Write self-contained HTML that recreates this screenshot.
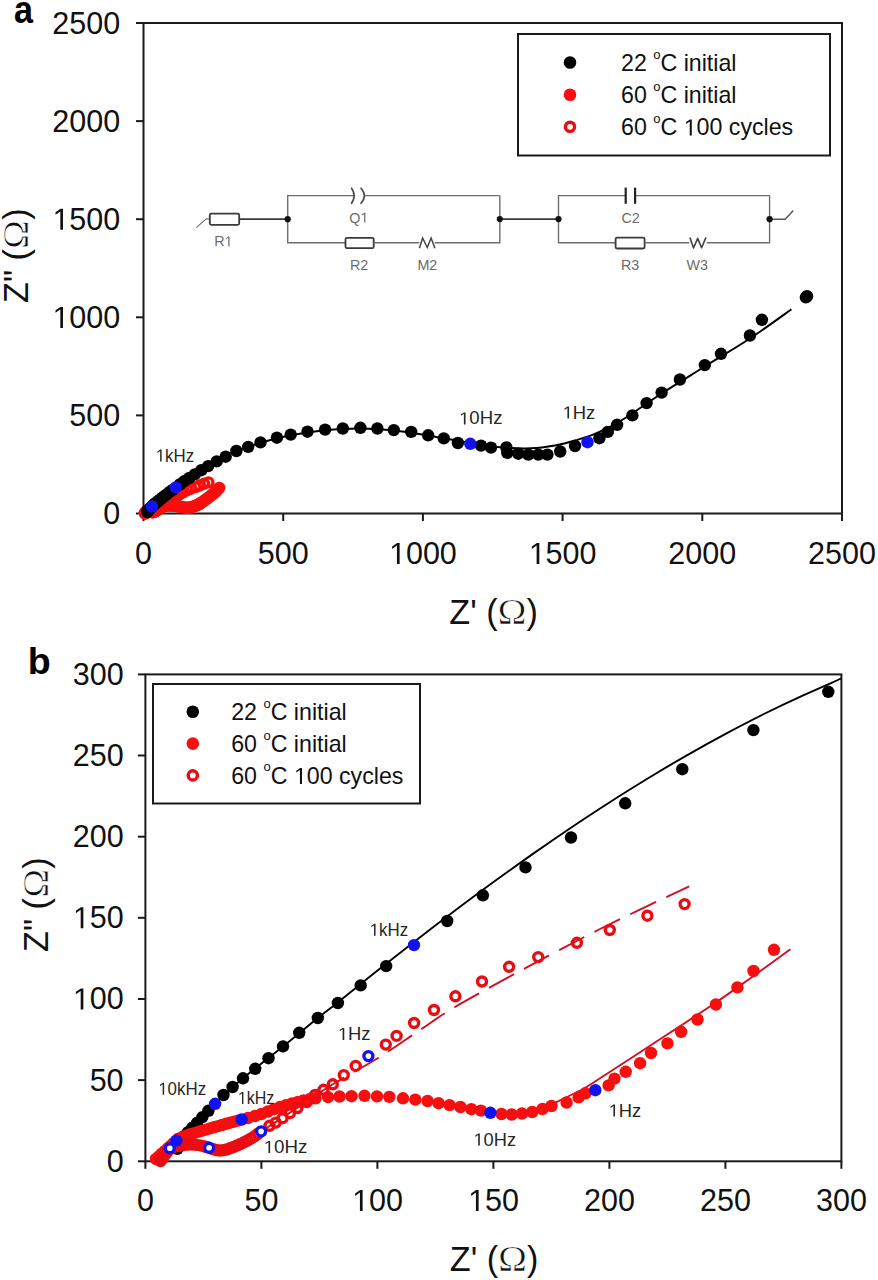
<!DOCTYPE html>
<html><head><meta charset="utf-8"><title>Nyquist plots</title>
<style>html,body{margin:0;padding:0;background:#fff;} body{width:878px;height:1280px;overflow:hidden;} svg{display:block;}</style>
</head><body>
<svg width="878" height="1280" viewBox="0 0 878 1280">
<rect x="143.5" y="23.0" width="698.5" height="490.5" fill="none" stroke="#1a1a1a" stroke-width="2"/>
<line x1="136.0" y1="513.5" x2="143.5" y2="513.5" stroke="#1a1a1a" stroke-width="2"/>
<text x="103.24" y="524.1" font-family="Liberation Sans" font-size="30.5" fill="#111" style="font-kerning:none">0</text>
<line x1="143.5" y1="513.5" x2="143.5" y2="521.0" stroke="#1a1a1a" stroke-width="2"/>
<text x="135.02" y="564" font-family="Liberation Sans" font-size="30.5" fill="#111" style="font-kerning:none">0</text>
<line x1="136.0" y1="415.4" x2="143.5" y2="415.4" stroke="#1a1a1a" stroke-width="2"/>
<text x="69.31" y="426.0" font-family="Liberation Sans" font-size="30.5" fill="#111" style="font-kerning:none">500</text>
<line x1="283.2" y1="513.5" x2="283.2" y2="521.0" stroke="#1a1a1a" stroke-width="2"/>
<text x="257.76" y="564" font-family="Liberation Sans" font-size="30.5" fill="#111" style="font-kerning:none">500</text>
<line x1="136.0" y1="317.3" x2="143.5" y2="317.3" stroke="#1a1a1a" stroke-width="2"/>
<text x="52.35" y="327.9" font-family="Liberation Sans" font-size="30.5" fill="#111" style="font-kerning:none"> 000</text><path transform="translate(52.35,327.9) scale(0.01489,-0.01489)" d="M535 0V1237L212 1010V1180L550 1409H716V0Z" fill="#111"/>
<line x1="422.9" y1="513.5" x2="422.9" y2="521.0" stroke="#1a1a1a" stroke-width="2"/>
<text x="388.97" y="564" font-family="Liberation Sans" font-size="30.5" fill="#111" style="font-kerning:none"> 000</text><path transform="translate(388.97,564) scale(0.01489,-0.01489)" d="M535 0V1237L212 1010V1180L550 1409H716V0Z" fill="#111"/>
<line x1="136.0" y1="219.2" x2="143.5" y2="219.2" stroke="#1a1a1a" stroke-width="2"/>
<text x="52.35" y="229.8" font-family="Liberation Sans" font-size="30.5" fill="#111" style="font-kerning:none"> 500</text><path transform="translate(52.35,229.8) scale(0.01489,-0.01489)" d="M535 0V1237L212 1010V1180L550 1409H716V0Z" fill="#111"/>
<line x1="562.6" y1="513.5" x2="562.6" y2="521.0" stroke="#1a1a1a" stroke-width="2"/>
<text x="528.67" y="564" font-family="Liberation Sans" font-size="30.5" fill="#111" style="font-kerning:none"> 500</text><path transform="translate(528.67,564) scale(0.01489,-0.01489)" d="M535 0V1237L212 1010V1180L550 1409H716V0Z" fill="#111"/>
<line x1="136.0" y1="121.1" x2="143.5" y2="121.1" stroke="#1a1a1a" stroke-width="2"/>
<text x="52.35" y="131.7" font-family="Liberation Sans" font-size="30.5" fill="#111" style="font-kerning:none">2000</text>
<line x1="702.3" y1="513.5" x2="702.3" y2="521.0" stroke="#1a1a1a" stroke-width="2"/>
<text x="668.37" y="564" font-family="Liberation Sans" font-size="30.5" fill="#111" style="font-kerning:none">2000</text>
<line x1="136.0" y1="23.0" x2="143.5" y2="23.0" stroke="#1a1a1a" stroke-width="2"/>
<text x="52.35" y="33.6" font-family="Liberation Sans" font-size="30.5" fill="#111" style="font-kerning:none">2500</text>
<line x1="842.0" y1="513.5" x2="842.0" y2="521.0" stroke="#1a1a1a" stroke-width="2"/>
<text x="808.07" y="564" font-family="Liberation Sans" font-size="30.5" fill="#111" style="font-kerning:none">2500</text>
<text transform="translate(14.0,22.8) scale(0.877,1)" font-family="Liberation Sans" font-weight="bold" font-size="39" fill="#000">a</text>
<rect x="518" y="34" width="312" height="121.5" fill="#fff" stroke="#1a1a1a" stroke-width="2"/>
<circle cx="570" cy="62.5" r="6.3" fill="#000"/>
<text x="621" y="71.10" font-family="Liberation Sans" font-size="23.2" fill="#111" style="font-kerning:none">22</text>
<text x="653.25" y="58.50" font-family="Liberation Sans" font-size="13.0" fill="#111">o</text>
<text x="660.48" y="71.10" font-family="Liberation Sans" font-size="23.2" fill="#111" style="font-kerning:none">C initial</text>
<circle cx="570" cy="94.8" r="6.3" fill="#f80e0e"/>
<text x="621" y="103.40" font-family="Liberation Sans" font-size="23.2" fill="#111" style="font-kerning:none">60</text>
<text x="653.25" y="90.80" font-family="Liberation Sans" font-size="13.0" fill="#111">o</text>
<text x="660.48" y="103.40" font-family="Liberation Sans" font-size="23.2" fill="#111" style="font-kerning:none">C initial</text>
<circle cx="570" cy="126.8" r="4.6" fill="#fff" stroke="#ea0c13" stroke-width="3.4"/>
<text x="621" y="135.40" font-family="Liberation Sans" font-size="23.2" fill="#111" style="font-kerning:none">60</text>
<text x="653.25" y="122.80" font-family="Liberation Sans" font-size="13.0" fill="#111">o</text>
<text x="660.48" y="135.40" font-family="Liberation Sans" font-size="23.2" fill="#111" style="font-kerning:none">C  00 cycles</text>
<path transform="translate(683.68,135.40) scale(0.01133,-0.01133)" d="M535 0V1237L212 1010V1180L550 1409H716V0Z" fill="#111"/>

<g fill="none" stroke="#6e6e6e" stroke-width="1.4">
<polyline points="196.3,227.6 206.3,218.8 209.4,218.8" stroke="#777" stroke-width="1.2"/>
<rect x="209.8" y="213.6" width="29.4" height="11.2" rx="1.5" stroke="#3a3a3a" stroke-width="1.8"/>
<line x1="239.5" y1="219.2" x2="287.7" y2="219.2" stroke="#3a3a3a" stroke-width="1.8"/>
<polyline points="354.2,195.6 287.7,195.6 287.7,242.8 345.1,242.8"/>
<line x1="364.3" y1="195.6" x2="499.8" y2="195.6"/>
<rect x="345.5" y="237.8" width="28.2" height="10.4" rx="1.5" stroke="#3a3a3a" stroke-width="1.8"/>
<line x1="373.7" y1="242.8" x2="419.3" y2="242.8"/>
<polyline points="419.4,248.3 422.6,238 427.3,247.5 431.1,238 434.9,248.3" stroke="#444" stroke-width="1.5"/>
<polyline points="434.7,242.8 499.8,242.8 499.8,195.6"/>
<line x1="499.8" y1="219.1" x2="558.5" y2="219.1" stroke="#3a3a3a" stroke-width="1.8"/>
<polyline points="625.7,195.6 558.5,195.6 558.5,242.8 615.3,242.8"/>
<line x1="635.1" y1="195.6" x2="769.6" y2="195.6"/>
<polyline points="769.6,195.6 769.6,242.8 706.6,242.8"/>
<rect x="615.6" y="237.7" width="29.0" height="10.8" rx="1.5" stroke="#3a3a3a" stroke-width="1.8"/>
<line x1="644.6" y1="242.8" x2="689.3" y2="242.8"/>
<polyline points="769.6,219.2 785.1,219.2 793.3,210.5" stroke="#555" stroke-width="1.4"/>
<path d="M351.6,188.2 Q356.6,195.6 351.6,203.3 M361.1,188.2 Q367.6,195.6 361.1,203.3" stroke="#4a4a4a" stroke-width="1.7" stroke-linecap="round"/>
<line x1="625.7" y1="187.6" x2="625.7" y2="203.8" stroke="#222" stroke-width="2.2"/>
<line x1="635.1" y1="187.6" x2="635.1" y2="203.8" stroke="#222" stroke-width="2.2"/>
</g>
<g fill="#111">
<circle cx="287.7" cy="219.2" r="3.1"/>
<circle cx="499.8" cy="219.1" r="3.1"/>
<circle cx="558.5" cy="219.1" r="3.1"/>
<circle cx="769.6" cy="219.2" r="3.1"/>
</g>
<polyline points="689.9,237.4 693.5,247.9 697.7,238.4 701.6,247.7 706.0,237.4" fill="none" stroke="#454545" stroke-width="1.6" stroke-linejoin="round"/>

<text x="214.20" y="246.4" font-family="Liberation Sans" font-size="14.3" fill="#6c6c6c" style="font-kerning:none">R </text><path transform="translate(224.53,246.4) scale(0.00698,-0.00698)" d="M535 0V1237L212 1010V1180L550 1409H716V0Z" fill="#6c6c6c"/>
<text x="349.30" y="222.6" font-family="Liberation Sans" font-size="14.3" fill="#6c6c6c" style="font-kerning:none">Q </text><path transform="translate(360.42,222.6) scale(0.00698,-0.00698)" d="M535 0V1237L212 1010V1180L550 1409H716V0Z" fill="#6c6c6c"/>
<text x="349.90" y="270" font-family="Liberation Sans" font-size="14.3" fill="#6c6c6c" style="font-kerning:none">R2</text>
<text x="417.40" y="270" font-family="Liberation Sans" font-size="14.3" fill="#6c6c6c" style="font-kerning:none">M2</text>
<text x="621.50" y="223.2" font-family="Liberation Sans" font-size="14.3" fill="#6c6c6c" style="font-kerning:none">C2</text>
<text x="621.00" y="270" font-family="Liberation Sans" font-size="14.3" fill="#6c6c6c" style="font-kerning:none">R3</text>
<text x="686.40" y="270" font-family="Liberation Sans" font-size="14.3" fill="#6c6c6c" style="font-kerning:none">W3</text>
<g>
<path d="M147.4,511.3 C147.6,511.0 148.1,510.6 148.9,509.8 C149.6,509.0 150.8,507.6 151.9,506.5 C153.0,505.5 153.9,504.6 155.3,503.5 C156.6,502.3 158.6,500.8 160.1,499.6 C161.6,498.4 163.2,497.1 164.3,496.2 C165.4,495.3 165.5,495.2 166.7,494.3 C167.9,493.4 169.8,491.8 171.3,490.5 C172.9,489.3 174.4,488.1 176.0,486.9 C177.6,485.6 179.1,484.5 180.7,483.3 C182.2,482.1 183.8,480.9 185.3,479.8 C186.9,478.7 188.4,477.6 190.0,476.5 C191.6,475.4 193.1,474.3 194.7,473.2 C196.2,472.2 197.8,471.2 199.3,470.1 C200.9,469.1 202.4,468.2 204.0,467.2 C205.5,466.3 207.1,465.4 208.7,464.5 C210.2,463.6 211.8,462.7 213.3,461.9 C214.9,461.0 216.4,460.2 218.0,459.4 C219.5,458.7 221.1,457.9 222.6,457.2 C224.2,456.5 225.0,456.1 227.3,455.1 C229.6,454.2 230.9,453.6 236.4,451.5 C241.9,449.4 251.4,445.5 260.5,442.8 C269.6,440.1 279.9,437.3 290.7,435.2 C301.5,433.1 313.5,431.3 325.1,430.2 C336.7,429.1 348.9,428.4 360.4,428.5 C371.8,428.6 382.5,429.3 393.8,430.5 C405.1,431.7 415.5,433.4 428.2,435.5 C440.9,437.6 458.0,441.1 470.0,443.0 C482.0,444.9 489.8,446.3 500.0,447.2 C510.2,448.1 521.8,448.6 531.0,448.3 C540.2,448.0 547.7,446.8 555.0,445.5 C562.3,444.2 568.1,442.6 575.0,440.5 C581.9,438.4 588.8,436.6 596.6,433.2 C604.5,429.8 611.3,426.6 622.1,420.0 C632.9,413.4 647.8,402.4 661.6,393.5 C675.4,384.6 690.1,375.7 704.8,366.5 C719.5,357.3 735.5,348.0 749.9,338.5 C764.3,329.0 784.5,314.2 791.4,309.3" fill="none" stroke="#000" stroke-width="2.0"/>
<circle cx="144.8" cy="513.2" r="6.2" fill="#f80e0e"/>
<circle cx="145.1" cy="512.9" r="6.2" fill="#f80e0e"/>
<circle cx="145.5" cy="512.6" r="6.2" fill="#f80e0e"/>
<circle cx="145.8" cy="512.3" r="6.2" fill="#f80e0e"/>
<circle cx="146.2" cy="512.0" r="6.2" fill="#f80e0e"/>
<circle cx="146.5" cy="511.6" r="6.2" fill="#f80e0e"/>
<circle cx="146.9" cy="511.3" r="6.2" fill="#f80e0e"/>
<circle cx="147.2" cy="511.0" r="6.2" fill="#f80e0e"/>
<circle cx="147.5" cy="510.8" r="6.2" fill="#f80e0e"/>
<circle cx="147.9" cy="510.6" r="6.2" fill="#f80e0e"/>
<circle cx="148.4" cy="510.4" r="6.2" fill="#f80e0e"/>
<circle cx="148.9" cy="510.2" r="6.2" fill="#f80e0e"/>
<circle cx="149.4" cy="510.1" r="6.2" fill="#f80e0e"/>
<circle cx="149.8" cy="509.9" r="6.2" fill="#f80e0e"/>
<circle cx="150.3" cy="509.8" r="6.2" fill="#f80e0e"/>
<circle cx="150.8" cy="509.7" r="6.2" fill="#f80e0e"/>
<circle cx="151.3" cy="509.5" r="6.2" fill="#f80e0e"/>
<circle cx="151.8" cy="509.4" r="6.2" fill="#f80e0e"/>
<circle cx="152.2" cy="509.2" r="6.2" fill="#f80e0e"/>
<circle cx="152.7" cy="509.1" r="6.2" fill="#f80e0e"/>
<circle cx="153.2" cy="509.0" r="6.2" fill="#f80e0e"/>
<circle cx="153.7" cy="508.8" r="6.2" fill="#f80e0e"/>
<circle cx="154.2" cy="508.7" r="6.2" fill="#f80e0e"/>
<circle cx="154.7" cy="508.6" r="6.2" fill="#f80e0e"/>
<circle cx="155.1" cy="508.4" r="6.2" fill="#f80e0e"/>
<circle cx="155.9" cy="508.3" r="6.2" fill="#f80e0e"/>
<circle cx="156.7" cy="508.0" r="6.2" fill="#f80e0e"/>
<circle cx="157.5" cy="507.8" r="6.2" fill="#f80e0e"/>
<circle cx="158.3" cy="507.5" r="6.2" fill="#f80e0e"/>
<circle cx="159.0" cy="507.2" r="6.2" fill="#f80e0e"/>
<circle cx="159.7" cy="506.9" r="6.2" fill="#f80e0e"/>
<circle cx="160.4" cy="506.7" r="6.2" fill="#f80e0e"/>
<circle cx="161.2" cy="506.5" r="6.2" fill="#f80e0e"/>
<circle cx="161.9" cy="506.3" r="6.2" fill="#f80e0e"/>
<circle cx="162.5" cy="506.2" r="6.2" fill="#f80e0e"/>
<circle cx="163.3" cy="506.0" r="6.2" fill="#f80e0e"/>
<circle cx="164.0" cy="505.9" r="6.2" fill="#f80e0e"/>
<circle cx="165.5" cy="505.7" r="6.2" fill="#f80e0e"/>
<circle cx="166.9" cy="505.7" r="6.2" fill="#f80e0e"/>
<circle cx="168.3" cy="505.6" r="6.2" fill="#f80e0e"/>
<circle cx="169.9" cy="505.6" r="6.2" fill="#f80e0e"/>
<circle cx="171.4" cy="505.7" r="6.2" fill="#f80e0e"/>
<circle cx="172.9" cy="505.7" r="6.2" fill="#f80e0e"/>
<circle cx="174.5" cy="505.9" r="6.2" fill="#f80e0e"/>
<circle cx="176.0" cy="506.0" r="6.2" fill="#f80e0e"/>
<circle cx="177.5" cy="506.2" r="6.2" fill="#f80e0e"/>
<circle cx="178.8" cy="506.5" r="6.2" fill="#f80e0e"/>
<circle cx="180.1" cy="506.7" r="6.2" fill="#f80e0e"/>
<circle cx="181.4" cy="506.9" r="6.2" fill="#f80e0e"/>
<circle cx="182.8" cy="507.2" r="6.2" fill="#f80e0e"/>
<circle cx="183.9" cy="507.4" r="6.2" fill="#f80e0e"/>
<circle cx="185.0" cy="507.6" r="6.2" fill="#f80e0e"/>
<circle cx="186.4" cy="507.8" r="6.2" fill="#f80e0e"/>
<circle cx="187.6" cy="507.8" r="6.2" fill="#f80e0e"/>
<circle cx="188.9" cy="507.7" r="6.2" fill="#f80e0e"/>
<circle cx="190.1" cy="507.5" r="6.2" fill="#f80e0e"/>
<circle cx="191.3" cy="507.2" r="6.2" fill="#f80e0e"/>
<circle cx="192.4" cy="506.8" r="6.2" fill="#f80e0e"/>
<circle cx="194.2" cy="506.4" r="6.2" fill="#f80e0e"/>
<circle cx="195.7" cy="505.8" r="6.2" fill="#f80e0e"/>
<circle cx="196.5" cy="505.3" r="6.2" fill="#f80e0e"/>
<circle cx="197.7" cy="504.9" r="6.2" fill="#f80e0e"/>
<circle cx="199.3" cy="504.3" r="6.2" fill="#f80e0e"/>
<circle cx="200.0" cy="503.5" r="6.2" fill="#f80e0e"/>
<circle cx="201.3" cy="502.7" r="6.2" fill="#f80e0e"/>
<circle cx="203.1" cy="501.6" r="6.2" fill="#f80e0e"/>
<circle cx="204.4" cy="500.4" r="6.2" fill="#f80e0e"/>
<circle cx="206.4" cy="499.2" r="6.2" fill="#f80e0e"/>
<circle cx="208.0" cy="497.8" r="6.2" fill="#f80e0e"/>
<circle cx="210.0" cy="496.4" r="6.2" fill="#f80e0e"/>
<circle cx="212.2" cy="494.5" r="6.2" fill="#f80e0e"/>
<circle cx="214.8" cy="492.5" r="6.2" fill="#f80e0e"/>
<circle cx="216.7" cy="490.5" r="6.2" fill="#f80e0e"/>
<circle cx="219.2" cy="487.9" r="6.2" fill="#f80e0e"/>
<circle cx="145.3" cy="513.5" r="4.50" fill="none" stroke="#f80e0e" stroke-width="3.4"/>
<circle cx="145.5" cy="513.2" r="4.50" fill="none" stroke="#f80e0e" stroke-width="3.4"/>
<circle cx="145.8" cy="512.8" r="4.50" fill="none" stroke="#f80e0e" stroke-width="3.4"/>
<circle cx="146.0" cy="512.5" r="4.50" fill="none" stroke="#f80e0e" stroke-width="3.4"/>
<circle cx="146.2" cy="512.2" r="4.50" fill="none" stroke="#f80e0e" stroke-width="3.4"/>
<circle cx="146.4" cy="511.9" r="4.50" fill="none" stroke="#f80e0e" stroke-width="3.4"/>
<circle cx="146.8" cy="511.8" r="4.50" fill="none" stroke="#f80e0e" stroke-width="3.4"/>
<circle cx="147.2" cy="511.7" r="4.50" fill="none" stroke="#f80e0e" stroke-width="3.4"/>
<circle cx="147.7" cy="511.6" r="4.50" fill="none" stroke="#f80e0e" stroke-width="3.4"/>
<circle cx="148.1" cy="511.5" r="4.50" fill="none" stroke="#f80e0e" stroke-width="3.4"/>
<circle cx="148.6" cy="511.5" r="4.50" fill="none" stroke="#f80e0e" stroke-width="3.4"/>
<circle cx="149.1" cy="511.5" r="4.50" fill="none" stroke="#f80e0e" stroke-width="3.4"/>
<circle cx="149.6" cy="511.5" r="4.50" fill="none" stroke="#f80e0e" stroke-width="3.4"/>
<circle cx="150.1" cy="511.6" r="4.50" fill="none" stroke="#f80e0e" stroke-width="3.4"/>
<circle cx="150.5" cy="511.7" r="4.50" fill="none" stroke="#f80e0e" stroke-width="3.4"/>
<circle cx="150.9" cy="511.8" r="4.50" fill="none" stroke="#f80e0e" stroke-width="3.4"/>
<circle cx="151.2" cy="511.9" r="4.50" fill="none" stroke="#f80e0e" stroke-width="3.4"/>
<circle cx="151.6" cy="512.0" r="4.50" fill="none" stroke="#f80e0e" stroke-width="3.4"/>
<circle cx="152.0" cy="512.1" r="4.50" fill="none" stroke="#f80e0e" stroke-width="3.4"/>
<circle cx="152.4" cy="512.2" r="4.50" fill="none" stroke="#f80e0e" stroke-width="3.4"/>
<circle cx="152.8" cy="512.2" r="4.50" fill="none" stroke="#f80e0e" stroke-width="3.4"/>
<circle cx="153.3" cy="512.1" r="4.50" fill="none" stroke="#f80e0e" stroke-width="3.4"/>
<circle cx="153.7" cy="511.9" r="4.50" fill="none" stroke="#f80e0e" stroke-width="3.4"/>
<circle cx="154.1" cy="511.8" r="4.50" fill="none" stroke="#f80e0e" stroke-width="3.4"/>
<circle cx="154.5" cy="511.6" r="4.50" fill="none" stroke="#f80e0e" stroke-width="3.4"/>
<circle cx="155.0" cy="511.4" r="4.50" fill="none" stroke="#f80e0e" stroke-width="3.4"/>
<circle cx="155.4" cy="511.2" r="4.50" fill="none" stroke="#f80e0e" stroke-width="3.4"/>
<circle cx="155.8" cy="511.0" r="4.50" fill="none" stroke="#f80e0e" stroke-width="3.4"/>
<circle cx="156.2" cy="510.7" r="4.50" fill="none" stroke="#f80e0e" stroke-width="3.4"/>
<circle cx="156.6" cy="510.5" r="4.50" fill="none" stroke="#f80e0e" stroke-width="3.4"/>
<circle cx="157.0" cy="510.2" r="4.50" fill="none" stroke="#f80e0e" stroke-width="3.4"/>
<circle cx="157.4" cy="509.9" r="4.50" fill="none" stroke="#f80e0e" stroke-width="3.4"/>
<circle cx="158.4" cy="509.2" r="4.50" fill="none" stroke="#f80e0e" stroke-width="3.4"/>
<circle cx="159.2" cy="508.8" r="4.50" fill="none" stroke="#f80e0e" stroke-width="3.4"/>
<circle cx="160.0" cy="508.3" r="4.50" fill="none" stroke="#f80e0e" stroke-width="3.4"/>
<circle cx="160.9" cy="507.7" r="4.50" fill="none" stroke="#f80e0e" stroke-width="3.4"/>
<circle cx="161.8" cy="507.1" r="4.50" fill="none" stroke="#f80e0e" stroke-width="3.4"/>
<circle cx="162.9" cy="506.3" r="4.50" fill="none" stroke="#f80e0e" stroke-width="3.4"/>
<circle cx="163.9" cy="505.5" r="4.50" fill="none" stroke="#f80e0e" stroke-width="3.4"/>
<circle cx="164.9" cy="504.9" r="4.50" fill="none" stroke="#f80e0e" stroke-width="3.4"/>
<circle cx="166.1" cy="504.2" r="4.50" fill="none" stroke="#f80e0e" stroke-width="3.4"/>
<circle cx="167.4" cy="503.1" r="4.50" fill="none" stroke="#f80e0e" stroke-width="3.4"/>
<circle cx="168.8" cy="502.0" r="4.50" fill="none" stroke="#f80e0e" stroke-width="3.4"/>
<circle cx="170.4" cy="500.8" r="4.50" fill="none" stroke="#f80e0e" stroke-width="3.4"/>
<circle cx="172.5" cy="499.4" r="4.50" fill="none" stroke="#f80e0e" stroke-width="3.4"/>
<circle cx="173.8" cy="498.3" r="4.50" fill="none" stroke="#f80e0e" stroke-width="3.4"/>
<circle cx="175.9" cy="496.8" r="4.50" fill="none" stroke="#f80e0e" stroke-width="3.4"/>
<circle cx="178.3" cy="495.2" r="4.50" fill="none" stroke="#f80e0e" stroke-width="3.4"/>
<circle cx="180.8" cy="493.6" r="4.50" fill="none" stroke="#f80e0e" stroke-width="3.4"/>
<circle cx="184.0" cy="491.8" r="4.50" fill="none" stroke="#f80e0e" stroke-width="3.4"/>
<circle cx="187.3" cy="490.0" r="4.50" fill="none" stroke="#f80e0e" stroke-width="3.4"/>
<circle cx="190.8" cy="488.8" r="4.50" fill="none" stroke="#f80e0e" stroke-width="3.4"/>
<circle cx="195.5" cy="487.1" r="4.50" fill="none" stroke="#f80e0e" stroke-width="3.4"/>
<circle cx="199.4" cy="485.5" r="4.50" fill="none" stroke="#f80e0e" stroke-width="3.4"/>
<circle cx="204.0" cy="483.8" r="4.50" fill="none" stroke="#f80e0e" stroke-width="3.4"/>
<circle cx="208.4" cy="482.4" r="4.50" fill="none" stroke="#f80e0e" stroke-width="3.4"/>
<circle cx="147.3" cy="512.0" r="6.2" fill="#000"/>
<circle cx="147.4" cy="511.3" r="6.2" fill="#000"/>
<circle cx="147.8" cy="510.9" r="6.2" fill="#000"/>
<circle cx="148.2" cy="510.5" r="6.2" fill="#000"/>
<circle cx="148.6" cy="510.0" r="6.2" fill="#000"/>
<circle cx="149.1" cy="509.4" r="6.2" fill="#000"/>
<circle cx="149.7" cy="508.8" r="6.2" fill="#000"/>
<circle cx="150.4" cy="508.2" r="6.2" fill="#000"/>
<circle cx="151.1" cy="507.4" r="6.2" fill="#000"/>
<circle cx="152.9" cy="505.5" r="6.2" fill="#000"/>
<circle cx="154.0" cy="504.5" r="6.2" fill="#000"/>
<circle cx="155.3" cy="503.5" r="6.2" fill="#000"/>
<circle cx="156.7" cy="502.3" r="6.2" fill="#000"/>
<circle cx="158.3" cy="501.0" r="6.2" fill="#000"/>
<circle cx="160.1" cy="499.6" r="6.2" fill="#000"/>
<circle cx="162.0" cy="498.0" r="6.2" fill="#000"/>
<circle cx="164.3" cy="496.2" r="6.2" fill="#000"/>
<circle cx="166.7" cy="494.4" r="6.2" fill="#000"/>
<circle cx="169.4" cy="492.2" r="6.2" fill="#000"/>
<circle cx="172.5" cy="489.9" r="6.2" fill="#000"/>
<circle cx="179.8" cy="484.5" r="6.2" fill="#000"/>
<circle cx="184.1" cy="481.3" r="6.2" fill="#000"/>
<circle cx="189.3" cy="478.0" r="6.2" fill="#000"/>
<circle cx="194.8" cy="474.4" r="6.2" fill="#000"/>
<circle cx="201.3" cy="470.2" r="6.2" fill="#000"/>
<circle cx="208.2" cy="466.1" r="6.2" fill="#000"/>
<circle cx="216.7" cy="461.4" r="6.2" fill="#000"/>
<circle cx="225.7" cy="456.7" r="6.2" fill="#000"/>
<circle cx="236.4" cy="451.0" r="6.2" fill="#000"/>
<circle cx="248.2" cy="446.9" r="6.2" fill="#000"/>
<circle cx="260.5" cy="442.4" r="6.2" fill="#000"/>
<circle cx="276.9" cy="437.7" r="6.2" fill="#000"/>
<circle cx="290.7" cy="434.6" r="6.2" fill="#000"/>
<circle cx="307.5" cy="431.7" r="6.2" fill="#000"/>
<circle cx="325.1" cy="429.6" r="6.2" fill="#000"/>
<circle cx="342.8" cy="428.5" r="6.2" fill="#000"/>
<circle cx="360.4" cy="427.8" r="6.2" fill="#000"/>
<circle cx="377.4" cy="428.5" r="6.2" fill="#000"/>
<circle cx="393.8" cy="430.1" r="6.2" fill="#000"/>
<circle cx="411.2" cy="431.9" r="6.2" fill="#000"/>
<circle cx="428.2" cy="435.3" r="6.2" fill="#000"/>
<circle cx="443.8" cy="438.4" r="6.2" fill="#000"/>
<circle cx="457.9" cy="443.0" r="6.2" fill="#000"/>
<circle cx="481.0" cy="445.6" r="6.2" fill="#000"/>
<circle cx="491.0" cy="447.6" r="6.2" fill="#000"/>
<circle cx="506.4" cy="447.4" r="6.2" fill="#000"/>
<circle cx="507.3" cy="452.8" r="6.2" fill="#000"/>
<circle cx="518.3" cy="453.7" r="6.2" fill="#000"/>
<circle cx="528.3" cy="454.6" r="6.2" fill="#000"/>
<circle cx="538.3" cy="454.6" r="6.2" fill="#000"/>
<circle cx="547.4" cy="454.6" r="6.2" fill="#000"/>
<circle cx="560.2" cy="451.5" r="6.2" fill="#000"/>
<circle cx="575.0" cy="446.0" r="6.2" fill="#000"/>
<circle cx="599.4" cy="438.2" r="6.2" fill="#000"/>
<circle cx="607.8" cy="431.9" r="6.2" fill="#000"/>
<circle cx="617.1" cy="424.8" r="6.2" fill="#000"/>
<circle cx="632.4" cy="415.4" r="6.2" fill="#000"/>
<circle cx="646.6" cy="403.1" r="6.2" fill="#000"/>
<circle cx="661.6" cy="392.6" r="6.2" fill="#000"/>
<circle cx="679.9" cy="379.5" r="6.2" fill="#000"/>
<circle cx="704.8" cy="365.1" r="6.2" fill="#000"/>
<circle cx="721.0" cy="353.8" r="6.2" fill="#000"/>
<circle cx="749.9" cy="335.5" r="6.2" fill="#000"/>
<circle cx="761.9" cy="319.8" r="6.2" fill="#000"/>
<circle cx="805.9" cy="297.3" r="6.2" fill="#000"/>
<circle cx="807.0" cy="296.2" r="6.2" fill="#000"/>
<circle cx="151.9" cy="506.5" r="6.2" fill="#1212ee"/>
<circle cx="175.8" cy="487.4" r="6.2" fill="#1212ee"/>
<circle cx="470.3" cy="443.8" r="6.2" fill="#1212ee"/>
<circle cx="587.5" cy="442.2" r="6.2" fill="#1212ee"/>
</g>
<g transform="translate(155.73,461.60) scale(0.937,0.97)"><text font-family="Liberation Sans" font-size="18" fill="#262626" style="font-kerning:none"> kHz</text><path transform="translate(0.00,0) scale(0.00879,-0.00879)" d="M535 0V1237L212 1010V1180L550 1409H716V0Z" fill="#262626"/></g>
<g transform="translate(459.01,424.40) scale(1.034,0.97)"><text font-family="Liberation Sans" font-size="18" fill="#262626" style="font-kerning:none"> 0Hz</text><path transform="translate(0.00,0) scale(0.00879,-0.00879)" d="M535 0V1237L212 1010V1180L550 1409H716V0Z" fill="#262626"/></g>
<g transform="translate(562.62,418.60) scale(1.022,0.97)"><text font-family="Liberation Sans" font-size="18" fill="#262626" style="font-kerning:none"> Hz</text><path transform="translate(0.00,0) scale(0.00879,-0.00879)" d="M535 0V1237L212 1010V1180L550 1409H716V0Z" fill="#262626"/></g>
<g transform="translate(449.9,623.9)" fill="#111"><text x="-0.6" y="0" font-family="Liberation Sans" font-size="34.2">Z' (</text><text transform="translate(62.0,0) scale(1.1,1)" x="0" y="0" text-anchor="middle" font-family="Liberation Serif" font-size="35.5" stroke="#fff" stroke-width="0.7">Ω</text><text x="76.6" y="0" font-family="Liberation Sans" font-size="34.2">)</text></g>
<g transform="translate(27.7,302.4) rotate(-90)" fill="#111"><text x="-0.6" y="0" font-family="Liberation Sans" font-size="34.2">Z" (</text><text transform="translate(68.0,0) scale(1.1,1)" x="0" y="0" text-anchor="middle" font-family="Liberation Serif" font-size="35.5" stroke="#fff" stroke-width="0.7">Ω</text><text x="82.6" y="0" font-family="Liberation Sans" font-size="34.2">)</text></g>
<rect x="145.4" y="674.4" width="696.0" height="486.9" fill="none" stroke="#1a1a1a" stroke-width="2"/>
<line x1="137.9" y1="1161.3" x2="145.4" y2="1161.3" stroke="#1a1a1a" stroke-width="2"/>
<text x="106.64" y="1171.7" font-family="Liberation Sans" font-size="30.5" fill="#111" style="font-kerning:none">0</text>
<line x1="145.4" y1="1161.3" x2="145.4" y2="1168.8" stroke="#1a1a1a" stroke-width="2"/>
<text x="136.92" y="1211" font-family="Liberation Sans" font-size="30.5" fill="#111" style="font-kerning:none">0</text>
<line x1="137.9" y1="1080.1" x2="145.4" y2="1080.1" stroke="#1a1a1a" stroke-width="2"/>
<text x="89.67" y="1090.55" font-family="Liberation Sans" font-size="30.5" fill="#111" style="font-kerning:none">50</text>
<line x1="261.4" y1="1161.3" x2="261.4" y2="1168.8" stroke="#1a1a1a" stroke-width="2"/>
<text x="244.44" y="1211" font-family="Liberation Sans" font-size="30.5" fill="#111" style="font-kerning:none">50</text>
<line x1="137.9" y1="999.0" x2="145.4" y2="999.0" stroke="#1a1a1a" stroke-width="2"/>
<text x="72.71" y="1009.4" font-family="Liberation Sans" font-size="30.5" fill="#111" style="font-kerning:none"> 00</text><path transform="translate(72.71,1009.4) scale(0.01489,-0.01489)" d="M535 0V1237L212 1010V1180L550 1409H716V0Z" fill="#111"/>
<line x1="377.4" y1="1161.3" x2="377.4" y2="1168.8" stroke="#1a1a1a" stroke-width="2"/>
<text x="351.96" y="1211" font-family="Liberation Sans" font-size="30.5" fill="#111" style="font-kerning:none"> 00</text><path transform="translate(351.96,1211) scale(0.01489,-0.01489)" d="M535 0V1237L212 1010V1180L550 1409H716V0Z" fill="#111"/>
<line x1="137.9" y1="917.8" x2="145.4" y2="917.8" stroke="#1a1a1a" stroke-width="2"/>
<text x="72.71" y="928.25" font-family="Liberation Sans" font-size="30.5" fill="#111" style="font-kerning:none"> 50</text><path transform="translate(72.71,928.25) scale(0.01489,-0.01489)" d="M535 0V1237L212 1010V1180L550 1409H716V0Z" fill="#111"/>
<line x1="493.4" y1="1161.3" x2="493.4" y2="1168.8" stroke="#1a1a1a" stroke-width="2"/>
<text x="467.96" y="1211" font-family="Liberation Sans" font-size="30.5" fill="#111" style="font-kerning:none"> 50</text><path transform="translate(467.96,1211) scale(0.01489,-0.01489)" d="M535 0V1237L212 1010V1180L550 1409H716V0Z" fill="#111"/>
<line x1="137.9" y1="836.7" x2="145.4" y2="836.7" stroke="#1a1a1a" stroke-width="2"/>
<text x="72.71" y="847.1" font-family="Liberation Sans" font-size="30.5" fill="#111" style="font-kerning:none">200</text>
<line x1="609.4" y1="1161.3" x2="609.4" y2="1168.8" stroke="#1a1a1a" stroke-width="2"/>
<text x="583.96" y="1211" font-family="Liberation Sans" font-size="30.5" fill="#111" style="font-kerning:none">200</text>
<line x1="137.9" y1="755.5" x2="145.4" y2="755.5" stroke="#1a1a1a" stroke-width="2"/>
<text x="72.71" y="765.95" font-family="Liberation Sans" font-size="30.5" fill="#111" style="font-kerning:none">250</text>
<line x1="725.4" y1="1161.3" x2="725.4" y2="1168.8" stroke="#1a1a1a" stroke-width="2"/>
<text x="699.96" y="1211" font-family="Liberation Sans" font-size="30.5" fill="#111" style="font-kerning:none">250</text>
<line x1="137.9" y1="674.4" x2="145.4" y2="674.4" stroke="#1a1a1a" stroke-width="2"/>
<text x="72.71" y="684.8" font-family="Liberation Sans" font-size="30.5" fill="#111" style="font-kerning:none">300</text>
<line x1="841.4" y1="1161.3" x2="841.4" y2="1168.8" stroke="#1a1a1a" stroke-width="2"/>
<text x="815.96" y="1211" font-family="Liberation Sans" font-size="30.5" fill="#111" style="font-kerning:none">300</text>
<text x="27.8" y="674.4" font-family="Liberation Sans" font-size="37.5" font-weight="bold" fill="#000" text-anchor="start" >b</text>
<rect x="153" y="684" width="267" height="119.5" fill="#fff" stroke="#1a1a1a" stroke-width="2"/>
<circle cx="192.8" cy="711.7" r="6.3" fill="#000"/>
<text x="231.2" y="720.30" font-family="Liberation Sans" font-size="23.2" fill="#111" style="font-kerning:none">22</text>
<text x="263.45" y="707.70" font-family="Liberation Sans" font-size="13.0" fill="#111">o</text>
<text x="270.68" y="720.30" font-family="Liberation Sans" font-size="23.2" fill="#111" style="font-kerning:none">C initial</text>
<circle cx="192.8" cy="743.6" r="6.3" fill="#f80e0e"/>
<text x="231.2" y="752.20" font-family="Liberation Sans" font-size="23.2" fill="#111" style="font-kerning:none">60</text>
<text x="263.45" y="739.60" font-family="Liberation Sans" font-size="13.0" fill="#111">o</text>
<text x="270.68" y="752.20" font-family="Liberation Sans" font-size="23.2" fill="#111" style="font-kerning:none">C initial</text>
<circle cx="192.8" cy="775.4" r="4.6" fill="#fff" stroke="#ea0c13" stroke-width="3.4"/>
<text x="231.2" y="784.00" font-family="Liberation Sans" font-size="23.2" fill="#111" style="font-kerning:none">60</text>
<text x="263.45" y="771.40" font-family="Liberation Sans" font-size="13.0" fill="#111">o</text>
<text x="270.68" y="784.00" font-family="Liberation Sans" font-size="23.2" fill="#111" style="font-kerning:none">C  00 cycles</text>
<path transform="translate(293.88,784.00) scale(0.01133,-0.01133)" d="M535 0V1237L212 1010V1180L550 1409H716V0Z" fill="#111"/>
<path d="M177.8,1143.0 C179.8,1141.0 183.8,1137.3 190.0,1130.8 C196.2,1124.3 206.3,1112.5 215.1,1103.8 C223.9,1095.0 231.7,1087.9 243.0,1078.3 C254.3,1068.7 270.5,1056.5 283.0,1046.4 C295.5,1036.4 308.7,1025.3 317.8,1018.0 C326.9,1010.7 328.1,1010.2 337.9,1002.4 C347.7,994.6 363.7,981.5 376.6,971.3 C389.5,961.0 402.4,950.9 415.3,940.9 C428.2,930.9 441.2,921.0 454.1,911.3 C467.0,901.6 479.9,892.0 492.8,882.6 C505.7,873.2 518.6,864.0 531.5,854.9 C544.4,845.8 557.3,836.9 570.2,828.2 C583.1,819.5 596.1,811.0 609.0,802.7 C621.9,794.4 634.8,786.4 647.7,778.5 C660.6,770.6 673.5,763.0 686.4,755.6 C699.3,748.2 712.2,741.0 725.1,734.1 C738.0,727.2 751.0,720.4 763.9,714.0 C776.8,707.6 789.7,701.5 802.6,695.6 C815.5,689.7 834.8,681.4 841.3,678.5" fill="none" stroke="#000" stroke-width="1.9"/>
<path d="M548.0,1105.5 C549.5,1104.9 552.4,1103.9 556.9,1101.8 C561.4,1099.7 569.5,1095.8 575.0,1093.0 C580.5,1090.2 577.5,1092.7 590.0,1084.8 C602.5,1076.9 629.8,1059.0 650.0,1045.8 C670.2,1032.6 694.7,1016.7 711.4,1005.5 C728.1,994.3 736.8,987.9 750.0,978.5 C763.2,969.1 783.7,954.2 790.4,949.3" fill="none" stroke="#d01020" stroke-width="1.9"/>
<path d="M262.0,1131.0 C268.3,1126.8 288.2,1113.8 300.0,1106.0 C311.8,1098.2 319.8,1092.3 332.8,1084.3 C345.8,1076.3 363.5,1067.0 378.0,1058.0 C392.5,1049.0 407.2,1038.5 420.0,1030.0 C432.8,1021.5 438.3,1016.8 455.0,1007.0 C471.7,997.2 495.8,984.0 520.0,971.0 C544.2,958.0 571.8,943.1 600.0,929.0 C628.2,914.9 674.3,893.4 689.2,886.3" fill="none" stroke="#d01020" stroke-width="1.9" stroke-dasharray="28.5,11.3" stroke-dashoffset="10"/>
<circle cx="177.3" cy="1148.8" r="6.2" fill="#000"/>
<circle cx="177.8" cy="1143.0" r="6.2" fill="#000"/>
<circle cx="180.8" cy="1139.8" r="6.2" fill="#000"/>
<circle cx="184.2" cy="1136.2" r="6.2" fill="#000"/>
<circle cx="188.0" cy="1132.2" r="6.2" fill="#000"/>
<circle cx="192.3" cy="1127.8" r="6.2" fill="#000"/>
<circle cx="197.1" cy="1122.8" r="6.2" fill="#000"/>
<circle cx="202.4" cy="1117.1" r="6.2" fill="#000"/>
<circle cx="208.4" cy="1110.8" r="6.2" fill="#000"/>
<circle cx="223.5" cy="1095.0" r="6.2" fill="#000"/>
<circle cx="232.6" cy="1087.0" r="6.2" fill="#000"/>
<circle cx="243.0" cy="1078.3" r="6.2" fill="#000"/>
<circle cx="255.2" cy="1068.8" r="6.2" fill="#000"/>
<circle cx="268.5" cy="1058.2" r="6.2" fill="#000"/>
<circle cx="283.0" cy="1046.4" r="6.2" fill="#000"/>
<circle cx="299.2" cy="1032.8" r="6.2" fill="#000"/>
<circle cx="317.8" cy="1018.0" r="6.2" fill="#000"/>
<circle cx="337.9" cy="1003.0" r="6.2" fill="#000"/>
<circle cx="360.7" cy="985.4" r="6.2" fill="#000"/>
<circle cx="386.2" cy="966.1" r="6.2" fill="#000"/>
<circle cx="447.2" cy="921.0" r="6.2" fill="#000"/>
<circle cx="482.9" cy="895.3" r="6.2" fill="#000"/>
<circle cx="525.5" cy="867.4" r="6.2" fill="#000"/>
<circle cx="571.0" cy="837.5" r="6.2" fill="#000"/>
<circle cx="625.2" cy="803.3" r="6.2" fill="#000"/>
<circle cx="682.3" cy="769.2" r="6.2" fill="#000"/>
<circle cx="753.4" cy="730.1" r="6.2" fill="#000"/>
<circle cx="828.3" cy="691.8" r="6.2" fill="#000"/>
<circle cx="156.0" cy="1159.0" r="6.2" fill="#f80e0e"/>
<circle cx="158.9" cy="1156.4" r="6.2" fill="#f80e0e"/>
<circle cx="161.8" cy="1153.7" r="6.2" fill="#f80e0e"/>
<circle cx="164.7" cy="1151.1" r="6.2" fill="#f80e0e"/>
<circle cx="167.7" cy="1148.5" r="6.2" fill="#f80e0e"/>
<circle cx="170.6" cy="1145.9" r="6.2" fill="#f80e0e"/>
<circle cx="173.5" cy="1143.2" r="6.2" fill="#f80e0e"/>
<circle cx="178.5" cy="1138.7" r="6.2" fill="#f80e0e"/>
<circle cx="182.3" cy="1137.2" r="6.2" fill="#f80e0e"/>
<circle cx="186.2" cy="1135.8" r="6.2" fill="#f80e0e"/>
<circle cx="190.0" cy="1134.3" r="6.2" fill="#f80e0e"/>
<circle cx="194.0" cy="1133.1" r="6.2" fill="#f80e0e"/>
<circle cx="198.0" cy="1131.9" r="6.2" fill="#f80e0e"/>
<circle cx="202.0" cy="1130.7" r="6.2" fill="#f80e0e"/>
<circle cx="206.0" cy="1129.6" r="6.2" fill="#f80e0e"/>
<circle cx="210.0" cy="1128.4" r="6.2" fill="#f80e0e"/>
<circle cx="214.0" cy="1127.3" r="6.2" fill="#f80e0e"/>
<circle cx="218.0" cy="1126.1" r="6.2" fill="#f80e0e"/>
<circle cx="222.0" cy="1125.0" r="6.2" fill="#f80e0e"/>
<circle cx="226.0" cy="1123.8" r="6.2" fill="#f80e0e"/>
<circle cx="230.0" cy="1122.7" r="6.2" fill="#f80e0e"/>
<circle cx="234.0" cy="1121.7" r="6.2" fill="#f80e0e"/>
<circle cx="238.0" cy="1120.6" r="6.2" fill="#f80e0e"/>
<circle cx="248.0" cy="1118.0" r="6.2" fill="#f80e0e"/>
<circle cx="255.0" cy="1116.0" r="6.2" fill="#f80e0e"/>
<circle cx="261.5" cy="1114.0" r="6.2" fill="#f80e0e"/>
<circle cx="268.0" cy="1111.5" r="6.2" fill="#f80e0e"/>
<circle cx="274.0" cy="1109.2" r="6.2" fill="#f80e0e"/>
<circle cx="280.0" cy="1107.0" r="6.2" fill="#f80e0e"/>
<circle cx="286.0" cy="1105.2" r="6.2" fill="#f80e0e"/>
<circle cx="292.0" cy="1103.5" r="6.2" fill="#f80e0e"/>
<circle cx="298.0" cy="1102.0" r="6.2" fill="#f80e0e"/>
<circle cx="303.5" cy="1100.5" r="6.2" fill="#f80e0e"/>
<circle cx="309.5" cy="1099.3" r="6.2" fill="#f80e0e"/>
<circle cx="315.5" cy="1098.3" r="6.2" fill="#f80e0e"/>
<circle cx="328.0" cy="1097.1" r="6.2" fill="#f80e0e"/>
<circle cx="339.5" cy="1096.5" r="6.2" fill="#f80e0e"/>
<circle cx="351.5" cy="1096.2" r="6.2" fill="#f80e0e"/>
<circle cx="364.5" cy="1095.8" r="6.2" fill="#f80e0e"/>
<circle cx="377.0" cy="1096.4" r="6.2" fill="#f80e0e"/>
<circle cx="389.3" cy="1096.9" r="6.2" fill="#f80e0e"/>
<circle cx="403.0" cy="1098.3" r="6.2" fill="#f80e0e"/>
<circle cx="415.3" cy="1099.6" r="6.2" fill="#f80e0e"/>
<circle cx="427.6" cy="1101.0" r="6.2" fill="#f80e0e"/>
<circle cx="438.6" cy="1103.2" r="6.2" fill="#f80e0e"/>
<circle cx="449.5" cy="1105.1" r="6.2" fill="#f80e0e"/>
<circle cx="460.4" cy="1107.0" r="6.2" fill="#f80e0e"/>
<circle cx="471.4" cy="1109.2" r="6.2" fill="#f80e0e"/>
<circle cx="480.9" cy="1110.6" r="6.2" fill="#f80e0e"/>
<circle cx="501.5" cy="1114.0" r="6.2" fill="#f80e0e"/>
<circle cx="511.8" cy="1114.5" r="6.2" fill="#f80e0e"/>
<circle cx="522.0" cy="1113.5" r="6.2" fill="#f80e0e"/>
<circle cx="532.3" cy="1112.0" r="6.2" fill="#f80e0e"/>
<circle cx="542.5" cy="1109.0" r="6.2" fill="#f80e0e"/>
<circle cx="551.5" cy="1106.0" r="6.2" fill="#f80e0e"/>
<circle cx="566.6" cy="1102.5" r="6.2" fill="#f80e0e"/>
<circle cx="578.6" cy="1097.4" r="6.2" fill="#f80e0e"/>
<circle cx="585.4" cy="1093.3" r="6.2" fill="#f80e0e"/>
<circle cx="608.6" cy="1085.4" r="6.2" fill="#f80e0e"/>
<circle cx="614.5" cy="1078.6" r="6.2" fill="#f80e0e"/>
<circle cx="625.7" cy="1071.8" r="6.2" fill="#f80e0e"/>
<circle cx="640.1" cy="1063.2" r="6.2" fill="#f80e0e"/>
<circle cx="651.0" cy="1053.0" r="6.2" fill="#f80e0e"/>
<circle cx="667.4" cy="1043.4" r="6.2" fill="#f80e0e"/>
<circle cx="681.1" cy="1031.8" r="6.2" fill="#f80e0e"/>
<circle cx="697.5" cy="1019.5" r="6.2" fill="#f80e0e"/>
<circle cx="715.9" cy="1004.5" r="6.2" fill="#f80e0e"/>
<circle cx="737.4" cy="987.4" r="6.2" fill="#f80e0e"/>
<circle cx="753.5" cy="971.0" r="6.2" fill="#f80e0e"/>
<circle cx="774.0" cy="949.8" r="6.2" fill="#f80e0e"/>
<circle cx="160.5" cy="1161.0" r="4.50" fill="none" stroke="#ea0c13" stroke-width="3.4"/>
<circle cx="162.4" cy="1158.5" r="4.50" fill="none" stroke="#ea0c13" stroke-width="3.4"/>
<circle cx="164.2" cy="1155.9" r="4.50" fill="none" stroke="#ea0c13" stroke-width="3.4"/>
<circle cx="166.1" cy="1153.4" r="4.50" fill="none" stroke="#ea0c13" stroke-width="3.4"/>
<circle cx="167.9" cy="1150.8" r="4.50" fill="none" stroke="#ea0c13" stroke-width="3.4"/>
<circle cx="173.0" cy="1147.3" r="4.50" fill="none" stroke="#ea0c13" stroke-width="3.4"/>
<circle cx="176.5" cy="1146.3" r="4.50" fill="none" stroke="#ea0c13" stroke-width="3.4"/>
<circle cx="180.0" cy="1145.6" r="4.50" fill="none" stroke="#ea0c13" stroke-width="3.4"/>
<circle cx="184.0" cy="1145.0" r="4.50" fill="none" stroke="#ea0c13" stroke-width="3.4"/>
<circle cx="188.0" cy="1144.6" r="4.50" fill="none" stroke="#ea0c13" stroke-width="3.4"/>
<circle cx="192.0" cy="1144.5" r="4.50" fill="none" stroke="#ea0c13" stroke-width="3.4"/>
<circle cx="196.0" cy="1144.8" r="4.50" fill="none" stroke="#ea0c13" stroke-width="3.4"/>
<circle cx="200.0" cy="1145.4" r="4.50" fill="none" stroke="#ea0c13" stroke-width="3.4"/>
<circle cx="203.5" cy="1146.2" r="4.50" fill="none" stroke="#ea0c13" stroke-width="3.4"/>
<circle cx="206.5" cy="1147.0" r="4.50" fill="none" stroke="#ea0c13" stroke-width="3.4"/>
<circle cx="212.5" cy="1149.0" r="4.50" fill="none" stroke="#ea0c13" stroke-width="3.4"/>
<circle cx="216.0" cy="1150.0" r="4.50" fill="none" stroke="#ea0c13" stroke-width="3.4"/>
<circle cx="219.5" cy="1150.5" r="4.50" fill="none" stroke="#ea0c13" stroke-width="3.4"/>
<circle cx="223.0" cy="1150.3" r="4.50" fill="none" stroke="#ea0c13" stroke-width="3.4"/>
<circle cx="226.5" cy="1149.5" r="4.50" fill="none" stroke="#ea0c13" stroke-width="3.4"/>
<circle cx="230.0" cy="1148.3" r="4.50" fill="none" stroke="#ea0c13" stroke-width="3.4"/>
<circle cx="233.5" cy="1147.0" r="4.50" fill="none" stroke="#ea0c13" stroke-width="3.4"/>
<circle cx="237.0" cy="1145.5" r="4.50" fill="none" stroke="#ea0c13" stroke-width="3.4"/>
<circle cx="240.5" cy="1144.0" r="4.50" fill="none" stroke="#ea0c13" stroke-width="3.4"/>
<circle cx="244.0" cy="1142.3" r="4.50" fill="none" stroke="#ea0c13" stroke-width="3.4"/>
<circle cx="247.5" cy="1140.5" r="4.50" fill="none" stroke="#ea0c13" stroke-width="3.4"/>
<circle cx="251.0" cy="1138.5" r="4.50" fill="none" stroke="#ea0c13" stroke-width="3.4"/>
<circle cx="254.5" cy="1136.3" r="4.50" fill="none" stroke="#ea0c13" stroke-width="3.4"/>
<circle cx="257.8" cy="1134.0" r="4.50" fill="none" stroke="#ea0c13" stroke-width="3.4"/>
<circle cx="269.5" cy="1125.8" r="4.50" fill="none" stroke="#ea0c13" stroke-width="3.4"/>
<circle cx="275.7" cy="1122.6" r="4.50" fill="none" stroke="#ea0c13" stroke-width="3.4"/>
<circle cx="282.6" cy="1118.2" r="4.50" fill="none" stroke="#ea0c13" stroke-width="3.4"/>
<circle cx="289.9" cy="1113.2" r="4.50" fill="none" stroke="#ea0c13" stroke-width="3.4"/>
<circle cx="297.5" cy="1108.0" r="4.50" fill="none" stroke="#ea0c13" stroke-width="3.4"/>
<circle cx="306.7" cy="1102.1" r="4.50" fill="none" stroke="#ea0c13" stroke-width="3.4"/>
<circle cx="315.1" cy="1094.9" r="4.50" fill="none" stroke="#ea0c13" stroke-width="3.4"/>
<circle cx="323.5" cy="1089.8" r="4.50" fill="none" stroke="#ea0c13" stroke-width="3.4"/>
<circle cx="332.8" cy="1084.3" r="4.50" fill="none" stroke="#ea0c13" stroke-width="3.4"/>
<circle cx="343.8" cy="1075.1" r="4.50" fill="none" stroke="#ea0c13" stroke-width="3.4"/>
<circle cx="355.7" cy="1065.9" r="4.50" fill="none" stroke="#ea0c13" stroke-width="3.4"/>
<circle cx="385.8" cy="1044.6" r="4.50" fill="none" stroke="#ea0c13" stroke-width="3.4"/>
<circle cx="396.6" cy="1035.9" r="4.50" fill="none" stroke="#ea0c13" stroke-width="3.4"/>
<circle cx="414.1" cy="1023.0" r="4.50" fill="none" stroke="#ea0c13" stroke-width="3.4"/>
<circle cx="434.0" cy="1010.0" r="4.50" fill="none" stroke="#ea0c13" stroke-width="3.4"/>
<circle cx="455.4" cy="996.3" r="4.50" fill="none" stroke="#ea0c13" stroke-width="3.4"/>
<circle cx="482.0" cy="981.5" r="4.50" fill="none" stroke="#ea0c13" stroke-width="3.4"/>
<circle cx="509.1" cy="966.8" r="4.50" fill="none" stroke="#ea0c13" stroke-width="3.4"/>
<circle cx="538.2" cy="957.1" r="4.50" fill="none" stroke="#ea0c13" stroke-width="3.4"/>
<circle cx="576.9" cy="942.8" r="4.50" fill="none" stroke="#ea0c13" stroke-width="3.4"/>
<circle cx="609.8" cy="930.0" r="4.50" fill="none" stroke="#ea0c13" stroke-width="3.4"/>
<circle cx="647.4" cy="915.7" r="4.50" fill="none" stroke="#ea0c13" stroke-width="3.4"/>
<circle cx="684.6" cy="904.1" r="4.50" fill="none" stroke="#ea0c13" stroke-width="3.4"/>
<circle cx="215.1" cy="1103.8" r="6.2" fill="#1212ee"/>
<circle cx="414.0" cy="945.1" r="6.2" fill="#1212ee"/>
<circle cx="176.4" cy="1140.6" r="6.2" fill="#1212ee"/>
<circle cx="241.7" cy="1119.5" r="6.2" fill="#1212ee"/>
<circle cx="490.4" cy="1112.8" r="6.2" fill="#1212ee"/>
<circle cx="595.3" cy="1090.2" r="6.2" fill="#1212ee"/>
<circle cx="169.8" cy="1148.3" r="4.50" fill="#fff" stroke="#1212ee" stroke-width="3.4"/>
<circle cx="209.1" cy="1147.8" r="4.50" fill="#fff" stroke="#1212ee" stroke-width="3.4"/>
<circle cx="261.1" cy="1131.4" r="4.50" fill="#fff" stroke="#1212ee" stroke-width="3.4"/>
<circle cx="368.4" cy="1056.1" r="4.50" fill="#fff" stroke="#1212ee" stroke-width="3.4"/>
<g transform="translate(158.23,1094.80) scale(0.939,0.97)"><text font-family="Liberation Sans" font-size="18" fill="#262626" style="font-kerning:none"> 0kHz</text><path transform="translate(0.00,0) scale(0.00879,-0.00879)" d="M535 0V1237L212 1010V1180L550 1409H716V0Z" fill="#262626"/></g>
<g transform="translate(237.79,1103.90) scale(0.890,0.97)"><text font-family="Liberation Sans" font-size="18" fill="#262626" style="font-kerning:none"> kHz</text><path transform="translate(0.00,0) scale(0.00879,-0.00879)" d="M535 0V1237L212 1010V1180L550 1409H716V0Z" fill="#262626"/></g>
<g transform="translate(369.63,935.80) scale(0.939,0.97)"><text font-family="Liberation Sans" font-size="18" fill="#262626" style="font-kerning:none"> kHz</text><path transform="translate(0.00,0) scale(0.00879,-0.00879)" d="M535 0V1237L212 1010V1180L550 1409H716V0Z" fill="#262626"/></g>
<g transform="translate(337.82,1039.90) scale(1.022,0.97)"><text font-family="Liberation Sans" font-size="18" fill="#262626" style="font-kerning:none"> Hz</text><path transform="translate(0.00,0) scale(0.00879,-0.00879)" d="M535 0V1237L212 1010V1180L550 1409H716V0Z" fill="#262626"/></g>
<g transform="translate(263.60,1152.90) scale(1.039,0.97)"><text font-family="Liberation Sans" font-size="18" fill="#262626" style="font-kerning:none"> 0Hz</text><path transform="translate(0.00,0) scale(0.00879,-0.00879)" d="M535 0V1237L212 1010V1180L550 1409H716V0Z" fill="#262626"/></g>
<g transform="translate(473.43,1145.50) scale(1.014,0.97)"><text font-family="Liberation Sans" font-size="18" fill="#262626" style="font-kerning:none"> 0Hz</text><path transform="translate(0.00,0) scale(0.00879,-0.00879)" d="M535 0V1237L212 1010V1180L550 1409H716V0Z" fill="#262626"/></g>
<g transform="translate(608.63,1116.60) scale(1.018,0.97)"><text font-family="Liberation Sans" font-size="18" fill="#262626" style="font-kerning:none"> Hz</text><path transform="translate(0.00,0) scale(0.00879,-0.00879)" d="M535 0V1237L212 1010V1180L550 1409H716V0Z" fill="#262626"/></g>
<g transform="translate(450.4,1271.1)" fill="#111"><text x="-0.6" y="0" font-family="Liberation Sans" font-size="34.2">Z' (</text><text transform="translate(62.0,0) scale(1.1,1)" x="0" y="0" text-anchor="middle" font-family="Liberation Serif" font-size="35.5" stroke="#fff" stroke-width="0.7">Ω</text><text x="76.6" y="0" font-family="Liberation Sans" font-size="34.2">)</text></g>
<g transform="translate(48.1,951.3) rotate(-90)" fill="#111"><text x="-0.6" y="0" font-family="Liberation Sans" font-size="34.2">Z" (</text><text transform="translate(68.0,0) scale(1.1,1)" x="0" y="0" text-anchor="middle" font-family="Liberation Serif" font-size="35.5" stroke="#fff" stroke-width="0.7">Ω</text><text x="82.6" y="0" font-family="Liberation Sans" font-size="34.2">)</text></g>
</svg>
</body></html>
